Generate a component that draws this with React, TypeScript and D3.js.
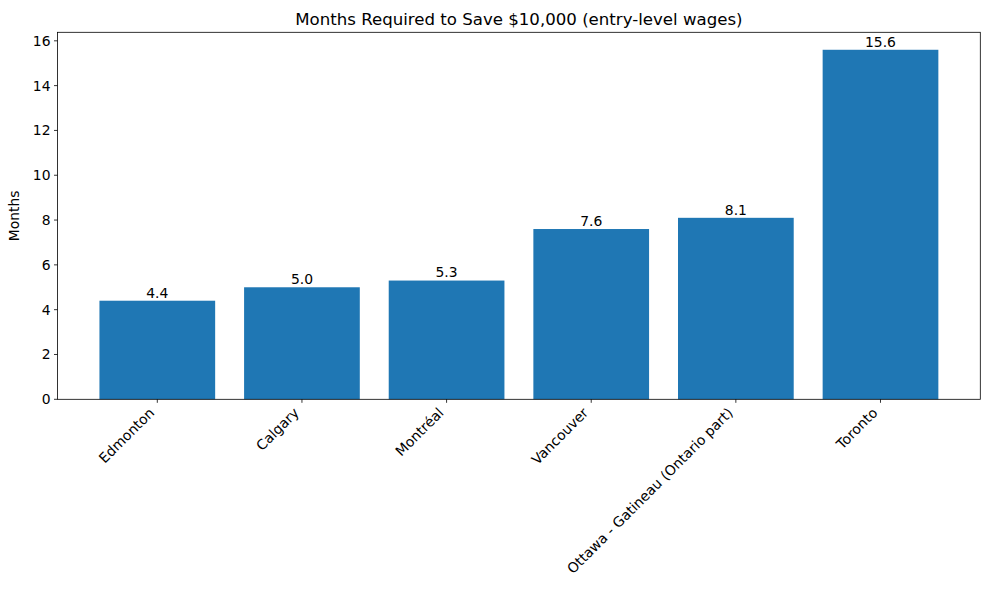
import React from "react";
import * as d3 from "d3";

const cities = [
  "Edmonton",
  "Calgary",
  "Montréal",
  "Vancouver",
  "Ottawa - Gatineau (Ontario part)",
  "Toronto",
];
const months = [4.4, 5.0, 5.3, 7.6, 8.1, 15.6];
const yTicks = [0, 2, 4, 6, 8, 10, 12, 14, 16];

const W = 989;
const H = 590;
const margin = { left: 57.5, right: 8.7, top: 32.3, bottom: 190.7 };
const FONT = "DejaVu Sans, sans-serif";
const BLUE = "#1f77b4";

export default function App() {
  const x0 = margin.left;
  const x1 = W - margin.right;
  const y0 = H - margin.bottom;
  const y1 = margin.top;

  // categorical axis as a linear scale with 5% margins around the bar extents
  const n = cities.length;
  const lo = -0.4;
  const hi = n - 1 + 0.4;
  const pad = (hi - lo) * 0.05;
  const x = d3.scaleLinear().domain([lo - pad, hi + pad]).range([x0, x1]);
  const yMax = d3.max(months)! * 1.05;
  const y = d3.scaleLinear().domain([0, yMax]).range([y0, y1]);
  const barW = x(0.8) - x(0);

  return (
    <svg width={W} height={H} style={{ display: "block", position: "absolute", left: 0, top: 0 }} fontFamily={FONT}>
      <rect width={W} height={H} fill="#fff" />
      <text x={(x0 + x1) / 2} y={y1 - 7.8} textAnchor="middle" fontSize={16.6} fill="#000">
        Months Required to Save $10,000 (entry-level wages)
      </text>
      {months.map((v, i) => (
        <g key={cities[i]}>
          <rect x={x(i) - barW / 2} y={y(v)} width={barW} height={y(0) - y(v)} fill={BLUE} />
          <text x={x(i)} y={y(v) - 3.2} textAnchor="middle" fontSize={13.9} fill="#000">
            {v.toFixed(1)}
          </text>
        </g>
      ))}
      {/* y axis ticks */}
      {yTicks.map((t) => (
        <g key={t}>
          <line x1={x0 - 3.5} x2={x0} y1={y(t)} y2={y(t)} stroke="#000" strokeWidth={0.8} />
          <text x={x0 - 7} y={y(t) + 5} textAnchor="end" fontSize={13.9} fill="#000">
            {t}
          </text>
        </g>
      ))}
      {/* x axis ticks and rotated labels */}
      {cities.map((c, i) => (
        <g key={c}>
          <line x1={x(i)} x2={x(i)} y1={y0} y2={y0 + 3.5} stroke="#000" strokeWidth={0.8} />
          <text
            transform={`translate(${x(i) - 2.1},${y0 + 14.4}) rotate(-45)`}
            textAnchor="end"
            fontSize={13.9}
            fill="#000"
          >
            {c}
          </text>
        </g>
      ))}
      <text transform={`translate(19,${(y0 + y1) / 2}) rotate(-90)`} textAnchor="middle" fontSize={13.9} fill="#000">
        Months
      </text>
      <rect x={x0} y={y1} width={x1 - x0} height={y0 - y1} fill="none" stroke="#000" strokeWidth={0.8} />
    </svg>
  );
}
